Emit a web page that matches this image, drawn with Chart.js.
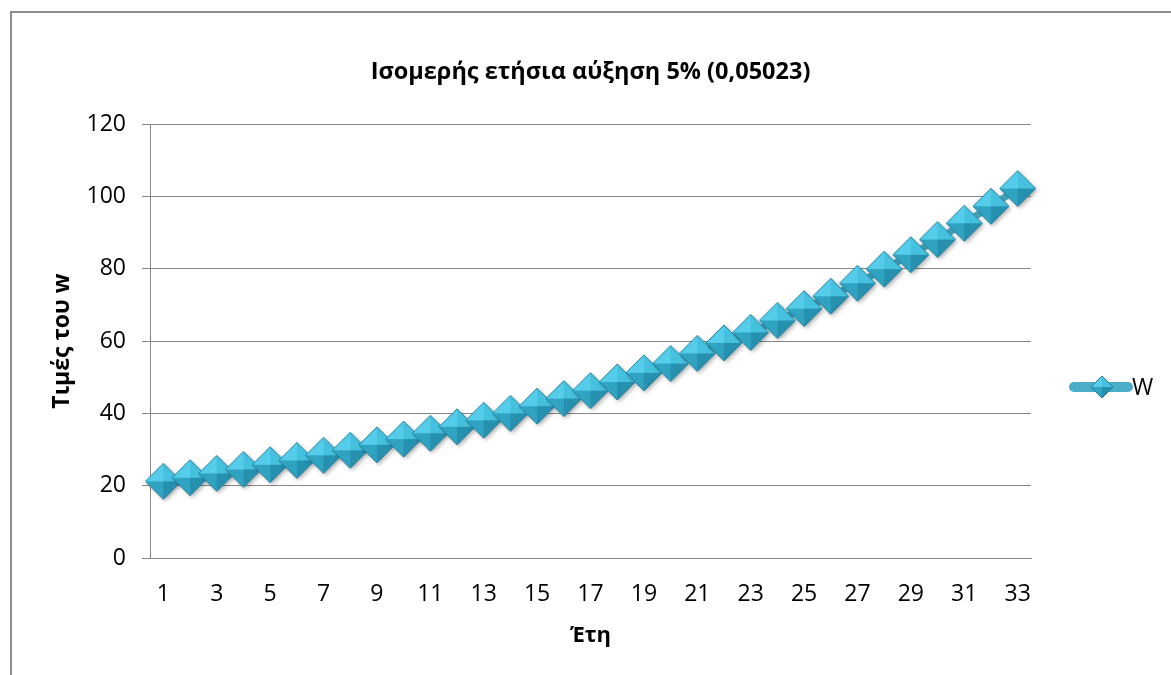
<!DOCTYPE html>
<html>
<head>
<meta charset="utf-8">
<script src="https://cdn.jsdelivr.net/npm/chart.js@4.4.1/dist/chart.umd.min.js"></script>
<style>
  html, body { margin: 0; padding: 0; background: #fff; overflow: hidden; }
  #frame { position: absolute; left: 10px; top: 11px; width: 2000px; height: 2000px;
           border-left: 2px solid #8c8c8c; border-top: 2px solid #8c8c8c; }
  #wrap { position: absolute; left: 0; top: 0; width: 1171px; height: 675px; }
</style>
</head>
<body>
<div id="frame"></div>
<div id="wrap"><canvas id="chart" width="1171" height="675"></canvas></div>
<script>
const chartTitle = 'Ισομερής ετήσια αύξηση 5% (0,05023)';
const xTitle = 'Έτη';
const yTitle = 'Τιμές του w';
const seriesName = 'W';

const years = ['1', '2', '3', '4', '5', '6', '7', '8', '9', '10', '11', '12', '13', '14', '15', '16', '17',
  '18', '19', '20', '21', '22', '23', '24', '25', '26', '27', '28', '29', '30', '31', '32', '33'];

const wValues = [21.2, 22.2, 23.4, 24.5, 25.8, 27.0, 28.4, 29.8, 31.3, 32.9, 34.5, 36.3, 38.1, 40.0, 42.0,
  44.1, 46.3, 48.7, 51.2, 53.8, 56.6, 59.5, 62.4, 65.7, 69.0, 72.4, 76.0, 79.9, 83.9, 88.1, 92.6, 97.3, 102.2];

const yMin = 0;
const yMax = 120;
const yStep = 20;

Chart.defaults.font.family = '"Open Sans", "DejaVu Sans", sans-serif';
Chart.defaults.color = '#000';

// bevelled diamond marker drawn once, used as the point image
function makeDiamond(r, withShadow) {
  const pad = withShadow ? 6 : 2;
  const size = 2 * r + pad * 2;
  const c = document.createElement('canvas');
  c.width = size;
  c.height = size;
  const g = c.getContext('2d');
  const cx = size / 2, cy = size / 2;

  const outline = () => {
    g.beginPath();
    g.moveTo(cx, cy - r);
    g.lineTo(cx + r, cy);
    g.lineTo(cx, cy + r);
    g.lineTo(cx - r, cy);
    g.closePath();
  };

  if (withShadow) {
    g.save();
    g.shadowColor = 'rgba(0,0,0,0.3)';
    g.shadowBlur = 4;
    g.shadowOffsetX = 2;
    g.shadowOffsetY = 2;
    outline();
    g.fillStyle = '#2a96b3';
    g.fill();
    g.restore();
  }

  const facet = (ax, ay, bx, by, color) => {
    g.beginPath();
    g.moveTo(cx, cy);
    g.lineTo(ax, ay);
    g.lineTo(bx, by);
    g.closePath();
    g.fillStyle = color;
    g.fill();
  };
  facet(cx - r, cy, cx, cy - r, '#55cdea');
  facet(cx, cy - r, cx + r, cy, '#46c0df');
  facet(cx - r, cy, cx, cy + r, '#2fa3c1');
  facet(cx, cy + r, cx + r, cy, '#2691ae');

  outline();
  g.strokeStyle = '#237f99';
  g.lineWidth = 1;
  g.stroke();
  return c;
}

const bigDiamond = makeDiamond(18, true);
const smallDiamond = makeDiamond(11, false);

const sideLegend = {
  id: 'sideLegend',
  afterDraw(chart) {
    const ctx = chart.ctx;
    const ds = chart.data.datasets[0];
    const y = 387;
    ctx.save();
    ctx.strokeStyle = '#4aaec8';
    ctx.lineWidth = 10;
    ctx.lineCap = 'round';
    ctx.beginPath();
    ctx.moveTo(1074, y);
    ctx.lineTo(1128, y);
    ctx.stroke();
    ctx.drawImage(smallDiamond, 1102 - smallDiamond.width / 2, y - smallDiamond.height / 2);
    ctx.fillStyle = '#000';
    ctx.font = '23px "Open Sans", sans-serif';
    ctx.textBaseline = 'middle';
    ctx.fillText(ds.label, 1132, y + 1);
    ctx.restore();
  }
};

new Chart(document.getElementById('chart'), {
  type: 'line',
  data: {
    labels: years,
    datasets: [{
      label: seriesName,
      data: wValues,
      borderColor: '#4bacc6',
      borderWidth: 7,
      pointStyle: bigDiamond,
      pointRadius: 18,
      pointHoverRadius: 18,
      tension: 0,
      clip: false
    }]
  },
  options: {
    responsive: false,
    devicePixelRatio: 1,
    animation: false,
    layout: { padding: { top: 0, right: 140, bottom: 0, left: 0 } },
    plugins: {
      legend: { display: false },
      tooltip: { enabled: false },
      title: {
        display: true,
        text: chartTitle,
        fullSize: false,
        color: '#000',
        font: { size: 23.5, weight: 'bold' },
        padding: { top: 58, bottom: 38 }
      }
    },
    scales: {
      x: {
        type: 'category',
        offset: true,
        grid: { display: true, offset: true, drawOnChartArea: false, drawTicks: false },
        border: { display: true, color: '#868686', width: 1 },
        ticks: {
          autoSkip: false,
          maxRotation: 0,
          padding: 23,
          font: { size: 23 },
          callback: (val, i) => (i % 2 === 0 ? years[i] : '')
        },
        title: {
          display: true,
          text: xTitle,
          font: { size: 22, weight: 'bold' },
          padding: { top: 0, bottom: 26 }
        },
        afterFit: (s) => { s.height = 117; }
      },
      y: {
        min: yMin,
        max: yMax,
        grid: { color: '#868686', lineWidth: 1, tickLength: 8 },
        border: { display: true, color: '#868686', width: 1 },
        ticks: { stepSize: yStep, padding: 16, font: { size: 23 } },
        title: {
          display: true,
          text: yTitle,
          font: { size: 23, weight: 'bold' },
          padding: { top: 49, bottom: 0 }
        },
        afterFit: (s) => { s.width = 150; }
      }
    }
  },
  plugins: [sideLegend]
});
</script>
</body>
</html>
